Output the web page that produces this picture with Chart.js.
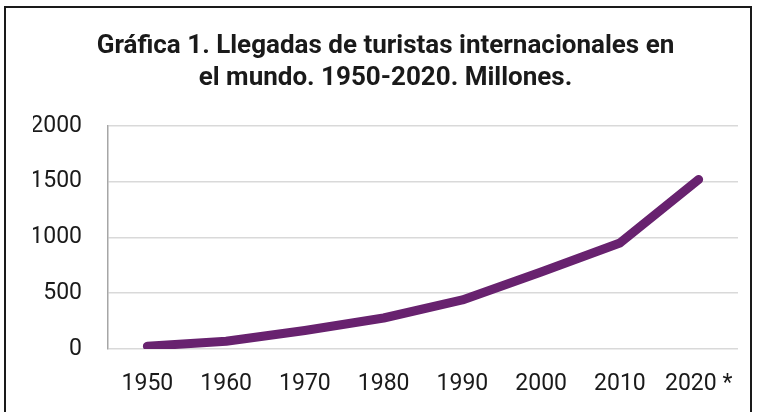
<!DOCTYPE html>
<html lang="es">
  <head>
    <meta charset="UTF-8" />
    <title>Llegadas de turistas internacionales</title>
    <script src="https://cdn.jsdelivr.net/npm/chart.js"></script>
    <style>
      body { margin: 0; background: #fff; }
      #marco {
        position: absolute; left: 4px; top: 6px;
        width: 744px; height: 430px;
        border: 2px solid #1a1a1a;
      }
      #wrap { position: absolute; left: 0; top: 0; width: 758px; height: 412px; }
    </style>
  </head>
  <body>
    <div id="marco"></div>
    <div id="wrap">
      <canvas id="grafica" width="758" height="412"></canvas>
    </div>

    <script>
      // Datos (millones de llegadas)
      const anios = ["1950", "1960", "1970", "1980", "1990", "2000", "2010", "2020 *"];
      const llegadas = [25, 69, 166, 278, 440, 690, 950, 1520];
      const ticksY = [0, 500, 1000, 1500, 2000];

      const ctx = document.getElementById("grafica").getContext("2d");

      new Chart(ctx, {
        type: "line",
        data: {
          labels: anios,
          datasets: [
            {
              data: llegadas,
              borderColor: "#68226f",
              borderWidth: 9,
              borderCapStyle: "round",
              borderJoinStyle: "round",
              pointRadius: 0,
              tension: 0,
              fill: false,
            },
          ],
        },
        options: {
          responsive: false,
          animation: false,
          layout: { padding: { left: 33, right: 20, top: 16, bottom: 0 } },
          plugins: {
            legend: { display: false },
            tooltip: { enabled: false },
            title: {
              display: true,
              text: [
                "Gráfica 1. Llegadas de turistas internacionales en",
                "el mundo. 1950-2020. Millones.",
              ],
              color: "#1a1a1a",
              font: { family: "Roboto", size: 26, weight: "bold", lineHeight: 1.23 },
              padding: { top: 15, bottom: 31 },
            },
          },
          scales: {
            x: {
              offset: true,
              grid: { display: false, drawTicks: false },
              border: { display: false },
              afterFit: (axis) => { axis.height = 63; },
              ticks: {
                color: "#1a1a1a",
                font: { family: "Roboto", size: 23 },
                padding: 21,
                maxRotation: 0,
              },
            },
            y: {
              min: ticksY[0],
              max: ticksY[ticksY.length - 1],
              afterBuildTicks: (axis) => {
                axis.ticks = ticksY.map((v) => ({ value: v }));
              },
              afterFit: (axis) => { axis.width = 75; },
              grid: { color: "#d9d9d9", lineWidth: 1.5, drawTicks: false },
              border: { color: "#a6a6a6", width: 1.5 },
              ticks: {
                color: "#1a1a1a",
                font: { family: "Roboto", size: 23 },
                padding: 26,
                callback: (v) => String(v),
              },
            },
          },
        },
      });
    </script>
  </body>
</html>
